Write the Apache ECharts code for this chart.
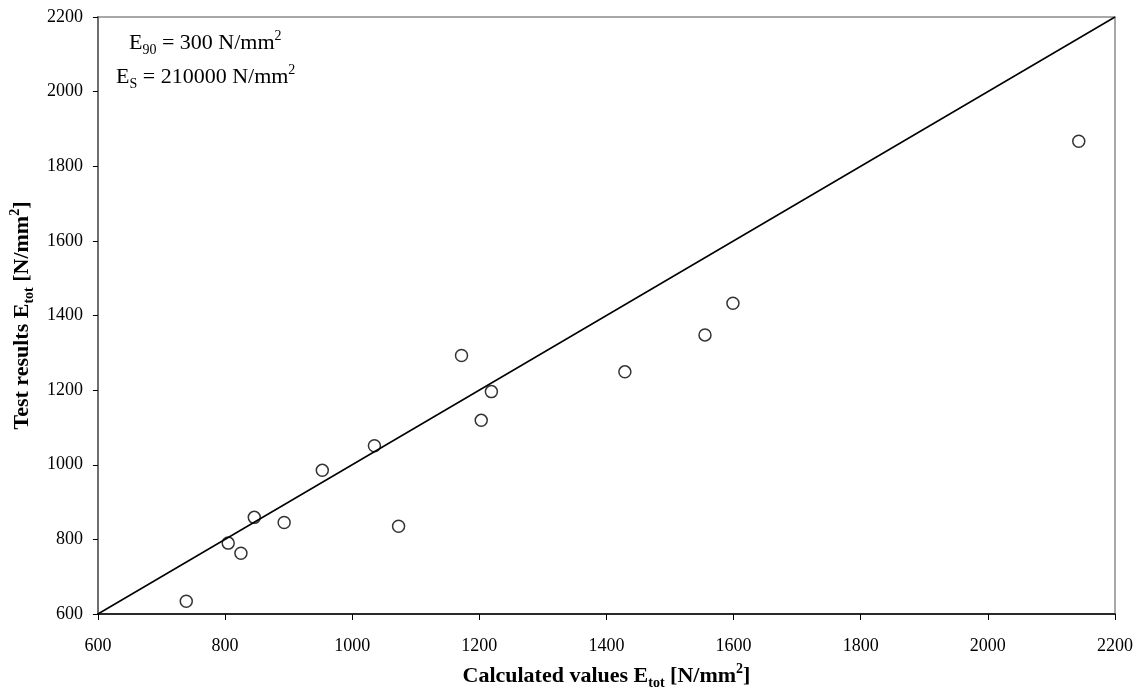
<!DOCTYPE html>
<html style="height: 100%">
<head>
    <meta charset="utf-8">
    <title>E_tot calculated vs test</title>
</head>
<body style="height: 100%; margin: 0">
    <div id="container" style="width: 1144px; height: 695px"></div>
    <script type="text/javascript" src="https://cdn.jsdelivr.net/npm/echarts@6/dist/echarts.min.js"></script>
    <script type="text/javascript">
        // calculated E_tot vs test result E_tot [N/mm2]
        var calcValues = [739, 805, 825, 846, 893, 953, 1035, 1073, 1172, 1203, 1219, 1429, 1555, 1599, 2143];
        var testValues = [634, 790, 763, 859, 845, 985, 1051, 835, 1293, 1119, 1196, 1249, 1348, 1433, 1867];
        var lineX      = [600, 2200];
        var lineY      = [600, 2200];
        var axisMin    = 600;
        var axisMax    = 2200;
        var axisStep   = 200;

        var font = '"Liberation Serif", "Times New Roman", serif';

        var points = calcValues.map(function (v, i) { return [v, testValues[i]]; });
        var diag   = lineX.map(function (v, i) { return [v, lineY[i]]; });

        var nameRich = {
            b:   {fontFamily: font, fontSize: 22, fontWeight: 'bold', color: '#000', lineHeight: 28},
            sub: {fontFamily: font, fontSize: 14, fontWeight: 'bold', color: '#000', lineHeight: 15, verticalAlign: 'bottom'},
            sup: {fontFamily: font, fontSize: 14, fontWeight: 'bold', color: '#000', lineHeight: 15, verticalAlign: 'top'}
        };
        var noteRich = {
            t:   {fontFamily: font, fontSize: 22, color: '#000', lineHeight: 28},
            sub: {fontFamily: font, fontSize: 14, color: '#000', lineHeight: 15, verticalAlign: 'bottom'},
            sup: {fontFamily: font, fontSize: 14, color: '#000', lineHeight: 15, verticalAlign: 'top'}
        };

        var dom     = document.getElementById("container");
        var myChart = echarts.init(dom);

        option = {
            animation: false,
            backgroundColor: '#fff',
            grid: {
                left:   97,
                right:  29,
                top:    17,
                bottom: 78,
                show: true,
                borderColor: '#8c8c8c',
                borderWidth: 1.5
            },
            xAxis: {
                type: 'value',
                min: axisMin,
                max: axisMax,
                interval: axisStep,
                name: '{b|Calculated values E}{sub|tot}{b| [N/mm}{sup|2}{b|]}',
                nameLocation: 'middle',
                nameGap: 48,
                nameTextStyle: {rich: nameRich},
                axisLine: {lineStyle: {color: '#000', width: 1.5}},
                axisTick: {show: true, inside: false, length: 6, lineStyle: {color: '#000', width: 1}},
                axisLabel: {
                    fontFamily: font, fontSize: 18, color: '#000', margin: 23,
                    formatter: function (val) { return String(val); }
                },
                splitLine: {show: false}
            },
            yAxis: {
                type: 'value',
                min: axisMin,
                max: axisMax,
                interval: axisStep,
                name: '{b|Test results E}{sub|tot}{b| [N/mm}{sup|2}{b|]}',
                nameLocation: 'middle',
                nameGap: 59,
                nameRotate: 90,
                nameTextStyle: {rich: nameRich},
                axisLine: {lineStyle: {color: '#6e6e6e', width: 2}},
                axisTick: {show: true, inside: false, length: 5, lineStyle: {color: '#000', width: 1}},
                axisLabel: {
                    fontFamily: font, fontSize: 18, color: '#000', margin: 15,
                    formatter: function (val) { return String(val); }
                },
                splitLine: {show: false}
            },
            graphic: [{
                type: 'text',
                left: 129,
                top: 29,
                style: {
                    text: '{t|E}{sub|90}{t| = 300 N/mm}{sup|2}',
                    rich: noteRich
                }
            }, {
                type: 'text',
                left: 116,
                top: 63,
                style: {
                    text: '{t|E}{sub|S}{t| = 210000 N/mm}{sup|2}',
                    rich: noteRich
                }
            }],
            series: [{
                type: 'line',
                data: diag,
                symbol: 'none',
                silent: true,
                lineStyle: {color: '#000', width: 1.5}
            }, {
                type: 'scatter',
                data: points,
                symbol: 'circle',
                symbolSize: 12,
                itemStyle: {color: '#fff', borderColor: '#000', borderWidth: 1.5}
            }]
        };

        if (option && typeof option === "object") {
            myChart.setOption(option, true);
        }
    </script>
</body>
</html>
